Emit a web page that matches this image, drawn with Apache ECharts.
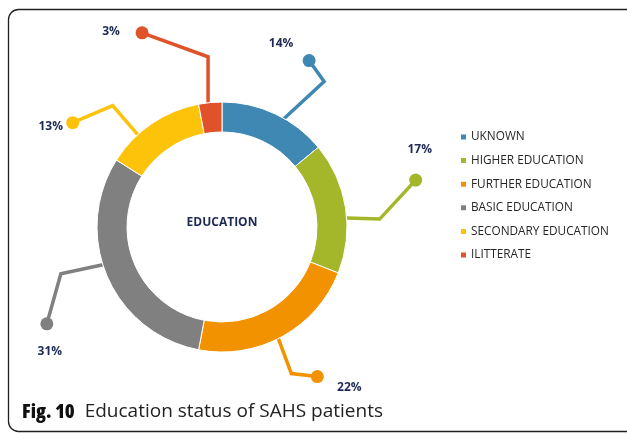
<!DOCTYPE html>
<html>
<head>
<meta charset="utf-8">
<script src="https://cdn.jsdelivr.net/npm/echarts@6/dist/echarts.min.js"></script>
<style>
  html, body { margin: 0; padding: 0; background: #fff; }
  #main { width: 627px; height: 433px; }
</style>
</head>
<body>
<div id="main"></div>
<script>
var names = ['UKNOWN', 'HIGHER EDUCATION', 'FURTHER EDUCATION', 'BASIC EDUCATION', 'SECONDARY EDUCATION', 'ILITTERATE'];
var values = [14, 17, 22, 31, 13, 3];
var colors = ['#3f88b4', '#a4b62a', '#f39200', '#808080', '#fcc30a', '#e0522a'];

// leader lines: angle shift of the start point, then offsets elbow / dot / text
var leaderShift = [4.6, 4.9, 2, 5.8, -8.2, -1];
var leaderElbow = [[40, -37], [33, 1], [13, 35], [-42, 9], [-25, -29], [0, -46]];
var leaderEnd = [[-15, -21], [36, -39], [26, 3], [-14, 50], [-40, 17], [-66, -24]];
var textOffset = [[-28, -17], [4, -30], [32, 11], [3, 28], [-22, 4], [-31, -1]];

var cx = 222, cy = 227, rIn = 95, rOut = 125;
var navy = '#1e2a55';

var total = 0;
values.forEach(function (v) { total += v; });

function leaderPoints(i) {
  var before = 0;
  for (var k = 0; k < i; k++) before += values[k];
  var ang = ((before + values[i] / 2) / total * 360 + leaderShift[i]) * Math.PI / 180;
  var a = [cx + rOut * Math.sin(ang), cy - rOut * Math.cos(ang)];
  var e1 = [a[0] + leaderElbow[i][0], a[1] + leaderElbow[i][1]];
  var e2 = [e1[0] + leaderEnd[i][0], e1[1] + leaderEnd[i][1]];
  return [a, e1, e2];
}

var mainData = [];
var textData = [];
for (var i = 0; i < names.length; i++) {
  mainData.push({
    name: names[i],
    value: values[i],
    itemStyle: { color: colors[i] },
    label: { rich: { c: { width: 13, height: 13, borderRadius: 7, backgroundColor: colors[i] } } }
  });
  textData.push({ name: names[i], value: values[i] });
}

var myChart = echarts.init(document.getElementById('main'));
var option = {
  animation: false,
  legend: {
    orient: 'vertical',
    left: 459,
    top: 130,
    padding: 0,
    icon: 'rect',
    itemWidth: 7,
    itemHeight: 7,
    itemGap: 9.6,
    textStyle: { fontFamily: 'Open Sans', fontSize: 11.8, color: '#262626', lineHeight: 14, padding: [0, 0, 0, -1] },
    data: names
  },
  graphic: [
    {
      type: 'rect',
      shape: { x: 8.5, y: 9.5, width: 640, height: 422, r: 10 },
      style: { fill: 'none', stroke: '#231f20', lineWidth: 1.3 },
      z: 0
    },
    {
      type: 'text',
      x: cx, y: 223,
      style: {
        text: 'EDUCATION',
        align: 'center', verticalAlign: 'middle',
        font: 'bold 12px "Open Sans"',
        fill: navy
      }
    },
    {
      type: 'text',
      x: 22, y: 412,
      style: {
        text: '{b|Fig. 10}  {n|Education status of SAHS patients}',
        verticalAlign: 'middle',
        font: '19px "Open Sans"',
        rich: {
          b: { font: 'semi-condensed 800 20px "Open Sans"', fill: '#111' },
          n: { font: '19px "Open Sans"', fill: '#222' }
        }
      }
    }
  ],
  series: [
    {
      type: 'pie',
      center: [cx, cy],
      radius: [rIn, rOut],
      startAngle: 90,
      avoidLabelOverlap: false,
      itemStyle: { borderColor: '#fff', borderWidth: 1 },
      label: { show: true, position: 'outside', formatter: '{c|}' },
      labelLine: { show: true, lineStyle: { width: 3.5 } },
      labelLayout: function (params) {
        var p = leaderPoints(params.dataIndex);
        return {
          x: p[2][0], y: p[2][1],
          align: 'center', verticalAlign: 'middle',
          labelLinePoints: p
        };
      },
      data: mainData
    },
    {
      type: 'pie',
      center: [cx, cy],
      radius: [rIn, rOut],
      startAngle: 90,
      silent: true,
      avoidLabelOverlap: false,
      itemStyle: { color: 'rgba(0,0,0,0)', borderWidth: 0 },
      label: {
        show: true,
        position: 'outside',
        formatter: '{c}%',
        fontFamily: 'Open Sans',
        fontWeight: 'bold',
        fontSize: 12,
        color: navy
      },
      labelLine: { show: false },
      labelLayout: function (params) {
        var i = params.dataIndex;
        var p = leaderPoints(i);
        return {
          x: p[2][0] + textOffset[i][0], y: p[2][1] + textOffset[i][1],
          align: 'center', verticalAlign: 'middle'
        };
      },
      data: textData
    }
  ]
};
myChart.setOption(option);
</script>
</body>
</html>
